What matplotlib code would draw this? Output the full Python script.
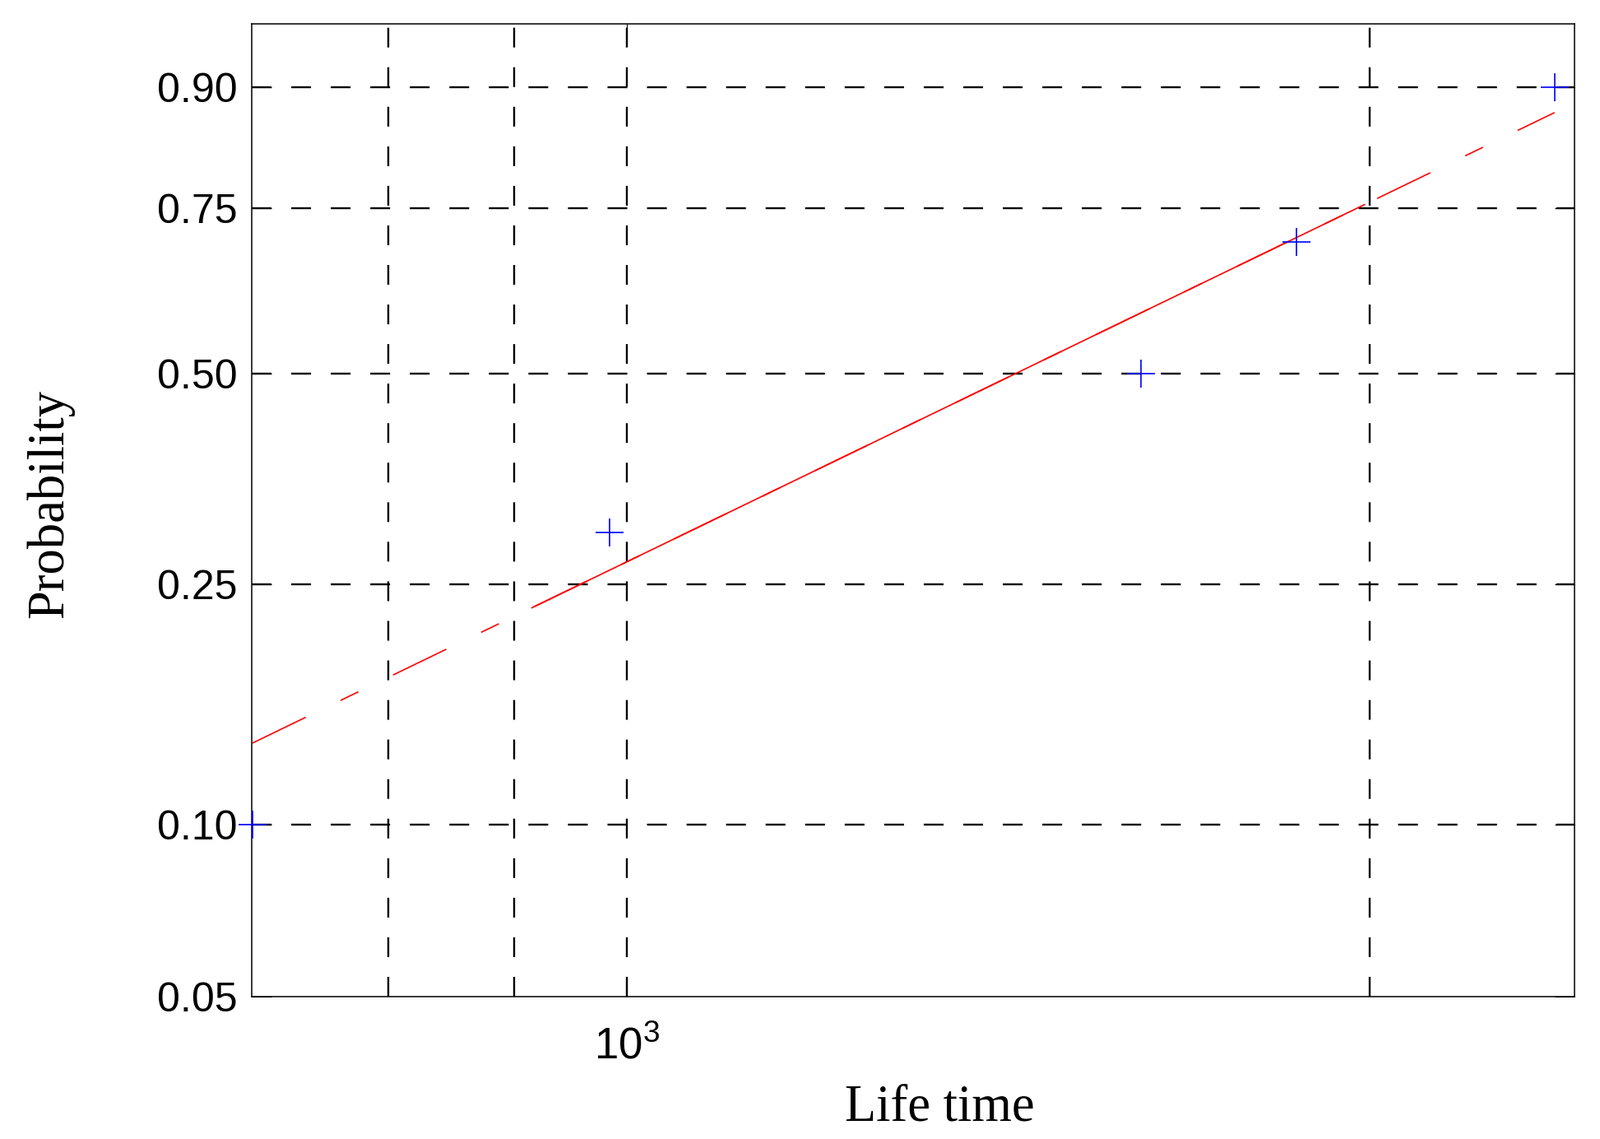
import numpy as np
import matplotlib
matplotlib.use('Agg')
import matplotlib.pyplot as plt
from matplotlib.ticker import FixedLocator, FixedFormatter, NullFormatter

# ---- data (Weibull probability plot) ----
life_time = [705, 984, 1615, 1867, 2376]
probability = [0.10, 0.30, 0.50, 0.70, 0.90]
fit_shape = 2.17          # Weibull shape of the reference line
fit_scale = 1700.0        # Weibull scale of the reference line
fit_solid_range = [915, 1990]   # quartiles of the data: solid part of the line
ytick_values = [0.05, 0.10, 0.25, 0.50, 0.75, 0.90]
ytick_labels = ['0.05', '0.10', '0.25', '0.50', '0.75', '0.90']
xtick_values = [1000]
xtick_labels = [r'$\mathregular{10^{3}}$']
xminor_values = [800, 900, 2000]
x_limits = [704.7, 2420]
y_limits = [0.05, 0.95]

plt.rcParams['lines.scale_dashes'] = False
plt.rcParams['mathtext.fontset'] = 'custom'
plt.rcParams['mathtext.rm'] = 'Liberation Sans'
plt.rcParams['mathtext.default'] = 'regular'


def wbl_fwd(p):
    p = np.clip(np.asarray(p, dtype=float), 1e-12, 1 - 1e-12)
    return np.log(-np.log(1 - p))


def wbl_inv(w):
    return 1 - np.exp(-np.exp(np.asarray(w, dtype=float)))


def wbl_cdf(x):
    x = np.asarray(x, dtype=float)
    return 1 - np.exp(-(x / fit_scale) ** fit_shape)


fig = plt.figure(figsize=(19.45, 13.84), dpi=100)
ax = fig.add_axes([0.1575, 0.125, 0.8264, 0.854])
ax.set_xscale('log')
ax.set_yscale('function', functions=(wbl_fwd, wbl_inv))
ax.set_xlim(*x_limits)
ax.set_ylim(*y_limits)

# fitted reference line: dashed over the data range, solid between quartiles
xd = np.geomspace(min(life_time), max(life_time), 60)
ax.plot(xd, wbl_cdf(xd), color='#ff0000', lw=1.2,
        linestyle=(0, (51.8, 33.8, 17.3, 33.8)), zorder=3)
xs = np.geomspace(fit_solid_range[0], fit_solid_range[1], 60)
ax.plot(xs, wbl_cdf(xs), color='#ff0000', lw=1.2, linestyle='-', zorder=3)

# data points
ax.plot(life_time, probability, linestyle='none', marker='+', color='#0000ff',
        markersize=24.5, markeredgewidth=1.2, clip_on=False, zorder=4)

# ticks
ax.yaxis.set_major_locator(FixedLocator(ytick_values))
ax.yaxis.set_major_formatter(FixedFormatter(ytick_labels))
ax.yaxis.set_minor_locator(FixedLocator([]))
ax.xaxis.set_major_locator(FixedLocator(xtick_values))
ax.xaxis.set_major_formatter(FixedFormatter(xtick_labels))
ax.xaxis.set_minor_locator(FixedLocator(xminor_values))
ax.xaxis.set_minor_formatter(NullFormatter())

ax.tick_params(axis='both', which='major', direction='in', length=17.3, width=0.8,
               top=True, right=True, labelsize=36, colors='black')
ax.tick_params(axis='y', which='major', pad=13)
ax.tick_params(axis='x', which='major', pad=26, labelsize=38)
ax.tick_params(axis='x', which='minor', length=0, top=True)
for lab in ax.get_xticklabels() + ax.get_yticklabels():
    lab.set_fontfamily('Liberation Sans')

# grid
gstyle = dict(color='black', linestyle=(0, (17.3, 17.3)), linewidth=1.7)
ax.grid(True, which='major', axis='both', **gstyle)
ax.grid(True, which='minor', axis='x', **gstyle)
ax.set_axisbelow(True)
# the 0.05 grid line lies on the bottom frame
ax.get_ygridlines()[0].set_visible(False)

for s in ax.spines.values():
    s.set_linewidth(1.1)
    s.set_color('black')

fig.text(60.5 / 1945, 1 - 612 / 1384, 'Probability', rotation=90,
         ha='center', va='center', fontsize=45, family='Liberation Serif')
fig.text(1142 / 1945, 1 - 1361 / 1384, 'Life time', ha='center', va='baseline',
         fontsize=45, family='Liberation Serif')

fig.savefig('out.png', dpi=100)
